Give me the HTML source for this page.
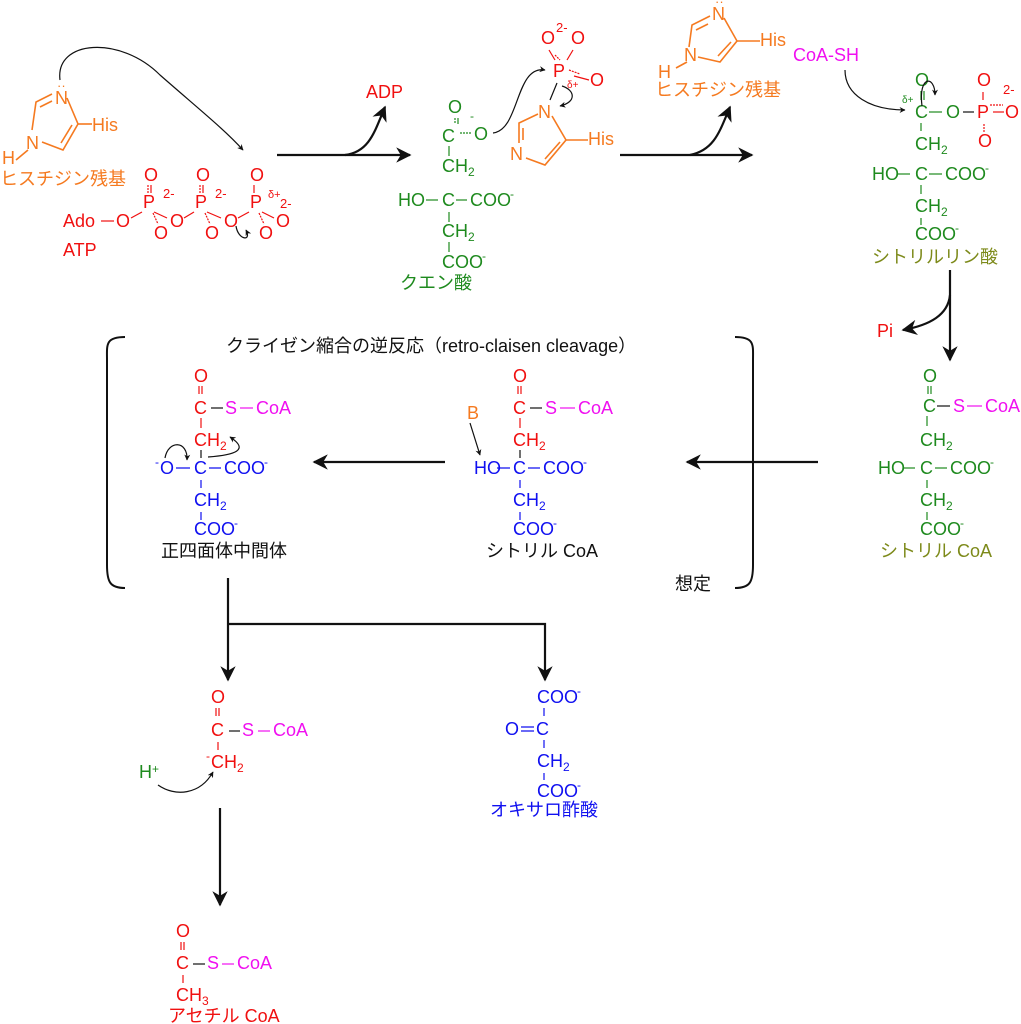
<!DOCTYPE html>
<html><head><meta charset="utf-8"><style>
html,body{margin:0;padding:0;background:#fff;}
svg{display:block;}
text{font-family:"Liberation Sans","Noto Sans CJK JP",sans-serif;font-size:18px;}
.r{fill:#f01010}.g{fill:#1e8a1e}.o{fill:#f57a20}.m{fill:#f010f0}.b{fill:#1010f0}.k{fill:#111}.ol{fill:#7d8a1a}
.s{font-size:12px}
</style></head><body>
<svg width="1021" height="1024" viewBox="0 0 1021 1024" xmlns="http://www.w3.org/2000/svg">
<defs>
<marker id="ah" viewBox="0 0 10 10" refX="9" refY="5" markerWidth="7" markerHeight="7" orient="auto"><path d="M0,0 L10,5 L0,10 L3,5z" fill="#111"/></marker>
<marker id="ahs" viewBox="0 0 10 10" refX="9" refY="5" markerWidth="5" markerHeight="5" orient="auto"><path d="M0,0 L10,5 L0,10 L3,5z" fill="#111"/></marker>
</defs>

<!-- ===== Top-left histidine ===== -->
<g stroke="#f57a20" stroke-width="1.6" fill="none">
<path d="M52,94 L36,102 L32,130"/><path d="M40,107 L52,101"/>
<path d="M67,98 L78,124 L63,150 L42,142"/><path d="M72,125 L61,143"/>
<path d="M78,124 L92,124"/><path d="M28,150 L16,160"/>
</g>
<text class="o" x="55" y="104">N</text>
<text class="o" x="57" y="90" style="font-size:13px">··</text>
<text class="o" x="26" y="149">N</text>
<text class="o" x="2" y="164">H</text>
<text class="o" x="92" y="131">His</text>
<text class="o" x="0" y="185">ヒスチジン残基</text>
<path d="M60,80 C55,40 120,35 160,75 C200,110 225,130 243,150" stroke="#111" stroke-width="1.2" fill="none" marker-end="url(#ahs)"/>

<!-- ATP -->
<g class="r">
<text x="144" y="181">O</text><text x="196" y="181">O</text><text x="250" y="181">O</text>
<text x="143" y="208">P</text><text x="195" y="208">P</text><text x="250" y="208">P</text>
<text x="163" y="198" style="font-size:13px">2-</text><text x="215" y="198" style="font-size:13px">2-</text>
<text x="268" y="198" style="font-size:11px">δ+</text><text x="280" y="208" style="font-size:13px">2-</text>
<text x="63" y="227">Ado</text>
<text x="116" y="227">O</text><text x="170" y="227">O</text><text x="224" y="227">O</text>
<text x="154" y="239">O</text><text x="205" y="239">O</text><text x="259" y="239">O</text><text x="276" y="227">O</text>
<text x="63" y="256">ATP</text>
</g>
<g stroke="#f01010" stroke-width="1.2" fill="none">
<path d="M101,221 L114,221"/><path d="M131,218 L142,212"/><path d="M154,212 L167,218"/><path d="M184,218 L194,212"/><path d="M207,212 L221,218"/><path d="M238,218 L249,212"/>
<path d="M148,185 L148,193" stroke-dasharray="2,1"/><path d="M151,185 L151,193"/>
<path d="M200,185 L200,193" stroke-dasharray="2,1"/><path d="M203,185 L203,193"/>
<path d="M254,185 L254,193"/>
<path d="M153,213 L158,224" stroke-dasharray="2,1"/><path d="M205,213 L210,224" stroke-dasharray="2,1"/><path d="M259,213 L264,224" stroke-dasharray="2,1"/><path d="M262,212 L274,218"/>
</g>
<path d="M236,226 C238,240 252,242 246,230" stroke="#111" stroke-width="1.2" fill="none" marker-end="url(#ahs)"/>

<!-- arrow 1 -->
<path d="M277,155 L410,155" stroke="#111" stroke-width="2.2" fill="none" marker-end="url(#ah)"/>
<path d="M345,155 C370,152 375,130 385,107" stroke="#111" stroke-width="2.2" fill="none" marker-end="url(#ah)"/>
<text class="r" x="366" y="98">ADP</text>

<!-- citrate -->
<g class="g">
<text x="448" y="113">O</text><text x="470" y="120" style="font-size:12px">-</text>
<text x="442" y="142">C</text><text x="474" y="140">O</text>
<text x="442" y="172">CH<tspan class="s" dy="4">2</tspan></text>
<text x="398" y="206">HO</text><text x="442" y="206">C</text><text x="470" y="206">COO</text><text x="510" y="198" style="font-size:12px">-</text>
<text x="442" y="237">CH<tspan class="s" dy="4">2</tspan></text>
<text x="442" y="268">COO</text><text x="482" y="260" style="font-size:12px">-</text>
<text x="400" y="289">クエン酸</text>
</g>
<g stroke="#1e8a1e" stroke-width="1.2">
<path d="M455,118 L455,124" stroke-dasharray="2,1"/><path d="M458,118 L458,124"/>
<path d="M460,133 L472,133" stroke-dasharray="2,1"/>
<path d="M449,146 L449,156"/><path d="M426,200 L438,200"/><path d="M456,200 L467,200"/>
<path d="M449,212 L449,222"/><path d="M449,242 L449,252"/>
</g>
<path d="M493,133 C520,130 515,65 545,70" stroke="#111" stroke-width="1.2" fill="none" marker-end="url(#ahs)"/>
<!-- phosphate -->
<g class="r">
<text x="541" y="44">O</text><text x="571" y="44">O</text><text x="556" y="32" style="font-size:13px">2-</text>
<text x="553" y="77">P</text><text x="590" y="86">O</text><text x="567" y="88" style="font-size:10px">δ+</text>
</g>
<g stroke="#f01010" stroke-width="1.2"><path d="M549,50 L555,60"/><path d="M555,55 L560,60" stroke-dasharray="2,1"/><path d="M573,50 L567,60"/><path d="M569,70 L580,74" stroke-dasharray="2,1"/><path d="M574,76 L589,80"/></g>
<path d="M557,83 L550,100" stroke="#111" stroke-width="1.2"/>
<path d="M562,86 C575,90 577,102 560,106" stroke="#111" stroke-width="1.2" fill="none" marker-end="url(#ahs)"/>
<g stroke="#f57a20" stroke-width="1.6" fill="none">
<path d="M538,114 L519,123 L519,143"/><path d="M523,128 L523,140" />
<path d="M552,116 L566,140 L545,165 L526,158"/><path d="M560,142 L545,159"/><path d="M566,140 L588,140"/>
</g>
<text class="o" x="538" y="118">N</text><text class="o" x="510" y="160">N</text><text class="o" x="588" y="145">His</text>

<!-- arrow 2 -->
<path d="M620,155 L752,155" stroke="#111" stroke-width="2.2" fill="none" marker-end="url(#ah)"/>
<path d="M690,155 C715,150 720,130 730,107" stroke="#111" stroke-width="2.2" fill="none" marker-end="url(#ah)"/>
<!-- histidine 2 -->
<g stroke="#f57a20" stroke-width="1.6" fill="none">
<path d="M710,16 L692,25 L689,47"/><path d="M696,30 L708,24"/>
<path d="M724,18 L737,41 L720,62 L698,57"/><path d="M731,42 L718,56"/><path d="M737,41 L760,41"/><path d="M687,62 L676,68"/>
</g>
<text class="o" x="712" y="20">N</text><text class="o" x="715" y="6" style="font-size:13px">··</text>
<text class="o" x="684" y="61">N</text><text class="o" x="658" y="78">H</text>
<text class="o" x="760" y="46">His</text>
<text class="o" x="655" y="96">ヒスチジン残基</text>
<text class="m" x="793" y="61">CoA-SH</text>
<path d="M845,70 C845,95 870,110 905,110" stroke="#111" stroke-width="1.2" fill="none" marker-end="url(#ahs)"/>

<!-- citryl phosphate -->
<g class="g">
<text x="915" y="86">O</text><text x="902" y="103" style="font-size:10px">δ+</text>
<text x="915" y="118">C</text><text x="946" y="118">O</text>
<text x="915" y="150">CH<tspan class="s" dy="4">2</tspan></text>
<text x="872" y="180">HO</text><text x="915" y="180">C</text><text x="945" y="180">COO</text><text x="985" y="172" style="font-size:12px">-</text>
<text x="915" y="212">CH<tspan class="s" dy="4">2</tspan></text>
<text x="915" y="240">COO</text><text x="955" y="232" style="font-size:12px">-</text>
</g>
<text class="ol" x="872" y="263">シトリルリン酸</text>
<g class="r"><text x="977" y="86">O</text><text x="977" y="118">P</text><text x="1005" y="118">O</text><text x="978" y="147">O</text><text x="1003" y="94" style="font-size:13px">2-</text></g>
<g stroke="#1e8a1e" stroke-width="1.2"><path d="M921,91 L921,100"/><path d="M924,91 L924,100"/><path d="M929,112 L942,112"/><path d="M921,123 L921,131"/><path d="M897,174 L910,174"/><path d="M929,174 L942,174"/><path d="M921,185 L921,194"/><path d="M921,218 L921,225"/></g>
<g stroke="#f01010" stroke-width="1.2"><path d="M983,92 L983,100"/><path d="M993,112 L1004,112"/><path d="M990,105 L1003,105" stroke-dasharray="2,1"/><path d="M984,124 L984,132" stroke-dasharray="2,1"/></g>
<path d="M963,112 L974,112" stroke="#111" stroke-width="1.2"/>
<path d="M922,106 C918,75 935,75 935,95" stroke="#111" stroke-width="1.2" fill="none" marker-end="url(#ahs)"/>

<!-- down arrow with Pi -->
<path d="M950,270 L950,360" stroke="#111" stroke-width="2.2" fill="none" marker-end="url(#ah)"/>
<path d="M950,295 C948,315 930,325 903,330" stroke="#111" stroke-width="2.2" fill="none" marker-end="url(#ah)"/>
<text class="r" x="877" y="337">Pi</text>

<!-- citryl CoA right (green) -->
<g class="g">
<text x="923" y="382">O</text><text x="923" y="412">C</text>
<text x="920" y="446">CH<tspan class="s" dy="4">2</tspan></text>
<text x="878" y="474">HO</text><text x="920" y="474">C</text><text x="950" y="474">COO</text><text x="990" y="466" style="font-size:12px">-</text>
<text x="920" y="506">CH<tspan class="s" dy="4">2</tspan></text>
<text x="920" y="535">COO</text><text x="960" y="527" style="font-size:12px">-</text>
</g>
<text class="m" x="953" y="412">S</text><text class="m" x="985" y="412">CoA</text>
<text class="ol" x="880" y="557">シトリル CoA</text>
<g stroke="#1e8a1e" stroke-width="1.2"><path d="M928,386 L928,394"/><path d="M931,386 L931,394"/><path d="M927,416 L927,426"/><path d="M903,468 L915,468"/><path d="M935,468 L947,468"/><path d="M927,480 L927,488"/><path d="M927,512 L927,520"/></g>
<path d="M937,406 L950,406" stroke="#111" stroke-width="1.2"/><path d="M967,406 L982,406" stroke="#f010f0" stroke-width="1.2"/>

<path d="M818,462 L687,462" stroke="#111" stroke-width="2.2" fill="none" marker-end="url(#ah)"/>

<!-- brackets -->
<path d="M125,337 C105,337 107,345 107,360 L107,565 C107,582 110,588 125,588" stroke="#111" stroke-width="2" fill="none"/>
<path d="M735,337 C755,337 753,345 753,360 L753,565 C753,582 750,588 735,588" stroke="#111" stroke-width="2" fill="none"/>
<text class="k" x="226" y="352" style="font-size:18px">クライゼン縮合の逆反応（retro-claisen cleavage）</text>
<text class="k" x="675" y="590" style="font-size:18px">想定</text>

<!-- middle citryl CoA -->
<g>
<text class="r" x="513" y="382">O</text><text class="r" x="513" y="414">C</text>
<text class="m" x="545" y="414">S</text><text class="m" x="578" y="414">CoA</text>
<text class="o" x="467" y="419">B</text>
<text class="r" x="513" y="446">CH<tspan class="s" dy="4">2</tspan></text>
<text class="b" x="474" y="474">HO</text><text class="b" x="513" y="474">C</text><text class="b" x="543" y="474">COO</text><text class="b" x="583" y="466" style="font-size:12px">-</text>
<text class="b" x="513" y="506">CH<tspan class="s" dy="4">2</tspan></text>
<text class="b" x="513" y="535">COO</text><text class="b" x="553" y="527" style="font-size:12px">-</text>
<text class="k" x="486" y="557">シトリル CoA</text>
</g>
<g stroke-width="1.2"><path d="M518,386 L518,394 M521,386 L521,394" stroke="#f01010"/><path d="M520,418 L520,428" stroke="#f01010"/><path d="M530,408 L542,408" stroke="#111"/><path d="M560,408 L575,408" stroke="#f010f0"/><path d="M520,450 L520,458" stroke="#111"/><path d="M497,468 L510,468 M528,468 L540,468 M520,480 L520,488 M520,512 L520,520" stroke="#1010f0"/></g>
<path d="M470,423 L480,455" stroke="#111" stroke-width="1.2" marker-end="url(#ahs)"/>

<path d="M445,462 L314,462" stroke="#111" stroke-width="2.2" fill="none" marker-end="url(#ah)"/>

<!-- tetrahedral -->
<g>
<text class="r" x="194" y="382">O</text><text class="r" x="194" y="414">C</text>
<text class="m" x="225" y="414">S</text><text class="m" x="256" y="414">CoA</text>
<text class="r" x="194" y="446">CH<tspan class="s" dy="4">2</tspan></text>
<text class="b" x="155" y="466" style="font-size:12px">-</text><text class="b" x="160" y="474">O</text><text class="b" x="194" y="474">C</text><text class="b" x="224" y="474">COO</text><text class="b" x="264" y="466" style="font-size:12px">-</text>
<text class="b" x="194" y="506">CH<tspan class="s" dy="4">2</tspan></text>
<text class="b" x="194" y="535">COO</text><text class="b" x="234" y="527" style="font-size:12px">-</text>
<text class="k" x="161" y="557">正四面体中間体</text>
</g>
<g stroke-width="1.2"><path d="M199,386 L199,394 M202,386 L202,394" stroke="#f01010"/><path d="M201,418 L201,428" stroke="#f01010"/><path d="M211,408 L223,408" stroke="#111"/><path d="M240,408 L253,408" stroke="#f010f0"/><path d="M201,450 L201,458" stroke="#111"/><path d="M176,468 L190,468 M209,468 L221,468 M201,480 L201,488 M201,512 L201,520" stroke="#1010f0"/></g>
<path d="M165,458 C168,440 188,440 187,460" stroke="#111" stroke-width="1.2" fill="none" marker-end="url(#ahs)"/>
<path d="M208,457 C235,455 250,450 230,437" stroke="#111" stroke-width="1.2" fill="none" marker-end="url(#ahs)"/>

<!-- split -->
<path d="M228,578 L228,680" stroke="#111" stroke-width="2.2" fill="none" marker-end="url(#ah)"/>
<path d="M228,624 L545,624 L545,680" stroke="#111" stroke-width="2.2" fill="none" marker-end="url(#ah)"/>

<!-- acetyl anion -->
<text class="r" x="211" y="703">O</text><text class="r" x="211" y="736">C</text>
<text class="m" x="242" y="736">S</text><text class="m" x="273" y="736">CoA</text>
<text class="r" x="206" y="760" style="font-size:12px">-</text><text class="r" x="211" y="768">CH<tspan class="s" dy="4">2</tspan></text>
<text class="g" x="139" y="778">H<tspan dy="-5" style="font-size:12px">+</tspan></text>
<g stroke-width="1.2"><path d="M216,708 L216,716 M219,708 L219,716" stroke="#f01010"/><path d="M218,742 L218,750" stroke="#f01010"/><path d="M229,731 L240,731" stroke="#111"/><path d="M258,731 L270,731" stroke="#f010f0"/></g>
<path d="M158,785 C175,797 200,795 213,772" stroke="#111" stroke-width="1.2" fill="none" marker-end="url(#ahs)"/>

<!-- oxaloacetate -->
<g class="b">
<text x="537" y="703">COO</text><text x="577" y="695" style="font-size:12px">-</text>
<text x="505" y="735">O</text><text x="536" y="735">C</text>
<text x="537" y="767">CH<tspan class="s" dy="4">2</tspan></text>
<text x="537" y="797">COO</text><text x="577" y="789" style="font-size:12px">-</text>
<text x="490" y="816">オキサロ酢酸</text>
</g>
<g stroke="#1010f0" stroke-width="1.2"><path d="M544,708 L544,716 M521,727 L534,727 M521,731 L534,731 M544,740 L544,748 M544,773 L544,780"/></g>

<path d="M220,808 L220,905" stroke="#111" stroke-width="2.2" fill="none" marker-end="url(#ah)"/>

<!-- acetyl CoA -->
<text class="r" x="176" y="937">O</text><text class="r" x="176" y="969">C</text>
<text class="m" x="207" y="969">S</text><text class="m" x="237" y="969">CoA</text>
<text class="r" x="176" y="1001">CH<tspan class="s" dy="4">3</tspan></text>
<text class="r" x="168" y="1022">アセチル CoA</text>
<g stroke-width="1.2"><path d="M181,942 L181,950 M184,942 L184,950" stroke="#f01010"/><path d="M183,975 L183,983" stroke="#f01010"/><path d="M193,964 L205,964" stroke="#111"/><path d="M222,964 L234,964" stroke="#f010f0"/></g>
</svg>
</body></html>
